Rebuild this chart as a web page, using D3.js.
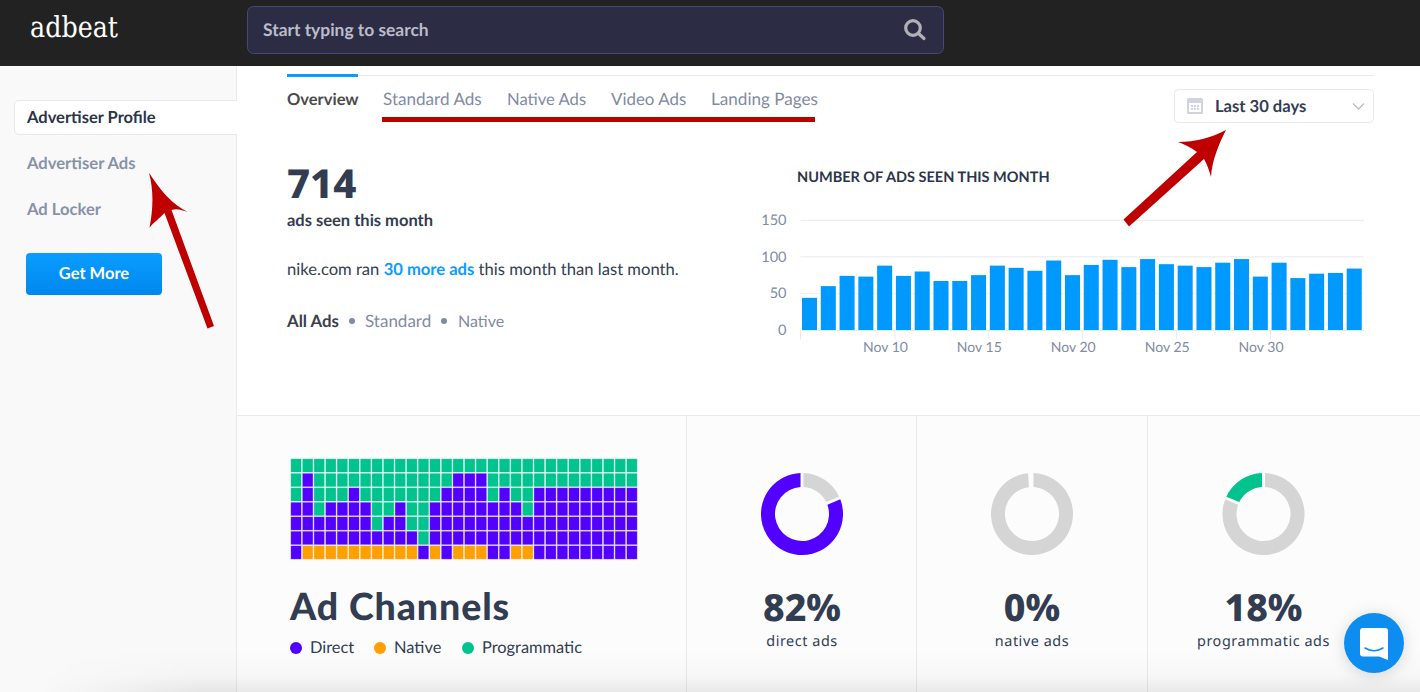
<![CDATA[<!DOCTYPE html>
<html><head><meta charset="utf-8">
<script src="https://cdn.jsdelivr.net/npm/d3@7"></script>
<style>
html,body{margin:0;padding:0;background:#fff;overflow:hidden}
svg{display:block}
text{font-family:Lato,sans-serif;text-rendering:geometricPrecision}
.noto{font-family:"Noto Sans",sans-serif}
</style></head><body><svg id="c" width="1420" height="692"></svg>
<script>
// ---------- data ----------
const adsPerDay = [44,60,74,73,88,74,80,67,67,75,88,85,81,95,75,89,96,86,97,90,88,86,92,97,73,92,71,77,78,84];
const firstDay = Date.UTC(2017,10,5);
const xTickDays = [Date.UTC(2017,10,10),Date.UTC(2017,10,15),Date.UTC(2017,10,20),Date.UTC(2017,10,25),Date.UTC(2017,10,30)];
const yTicks = [0,50,100,150];
const waffleRows = [
 "PPPPPPPPPPPPPPPPPPPPPPPPPPPPPP",
 "PDPPPPPPPPPPPPDDDPPPPPPPPPPPPP",
 "PDPPPDPPPPPPPDDDDPDPPDDDDDDDDD",
 "DDPDDDDPPDPPDDDDDDDDPDDDDDDDDD",
 "DDDDDDDPDDPPDDDDDDDDDDDDDDDDDD",
 "DDDDDDDDDDDPDDDDDDDDDDDDDDDDDD",
 "DNNNNNNNNNNDNDNNNDDNNDDDDDDDDD"];
const channelNames = ["Direct","Native","Programmatic"];
const channelKeys = ["D","N","P"];
const channelColors = ["#5200ff","#ff9f00","#00c38e"];
const directSplit = [18,82];
const nativeSplit = [100,0];
const programmaticSplit = [82,18];
const donutLabels = ["82%","0%","18%"];
const donutCaptions = ["direct ads","native ads","programmatic ads"];
const navTabs = ["Standard Ads","Native Ads","Video Ads","Landing Pages"];

// ---------- page frame ----------
const svg = d3.select("#c");
const NAVY="#323d52", GREY="#7f8ba3", LINE="#e8e9ef", RED="#bf0000";
const defs = svg.append("defs");
const g1 = defs.append("linearGradient").attr("id","btn").attr("x1",0).attr("x2",0).attr("y1",0).attr("y2",1);
g1.append("stop").attr("offset",0).attr("stop-color","#0a9dff");
g1.append("stop").attr("offset",1).attr("stop-color","#0087ef");
const g2 = defs.append("linearGradient").attr("id","fade").attr("x1",0).attr("x2",0).attr("y1",0).attr("y2",1);
g2.append("stop").attr("offset",0).attr("stop-color","#000").attr("stop-opacity",0);
g2.append("stop").attr("offset",0.6).attr("stop-color","#000").attr("stop-opacity",0.018);
g2.append("stop").attr("offset",1).attr("stop-color","#000").attr("stop-opacity",0.075);
const g3 = defs.append("linearGradient").attr("id","side").attr("x1",0).attr("x2",1).attr("y1",0).attr("y2",0);
g3.append("stop").attr("offset",0).attr("stop-color","#fff").attr("stop-opacity",0);
g3.append("stop").attr("offset",1).attr("stop-color","#fff").attr("stop-opacity",1);
const mk = defs.append("mask").attr("id","fadeMask").attr("maskUnits","userSpaceOnUse").attr("x",0).attr("y",640).attr("width",1420).attr("height",60);
mk.append("rect").attr("x",40).attr("y",640).attr("width",160).attr("height",60).attr("fill","url(#side)");
mk.append("rect").attr("x",200).attr("y",640).attr("width",1220).attr("height",60).attr("fill","#fff");
const sh = defs.append("filter").attr("id","sh").attr("x","-40%").attr("y","-40%").attr("width","180%").attr("height","180%");
sh.append("feDropShadow").attr("dx",0).attr("dy",2).attr("stdDeviation",8).attr("flood-color","#000").attr("flood-opacity",0.15);

function rect(x,y,w,h,fill,opt={}){const r=svg.append("rect").attr("x",x).attr("y",y).attr("width",w).attr("height",h).attr("fill",fill);
 for(const k in opt) r.attr(k,opt[k]); return r;}
function text(s,x,y,size,fill,weight=400,opt={}){const t=svg.append("text").attr("x",x).attr("y",y).attr("font-size",size).attr("fill",fill).attr("font-weight",weight).text(s);
 for(const k in opt) t.attr(k,opt[k]); return t;}

rect(0,0,1420,692,"#fff");
rect(0,66,237,626,"#f9f9fa");
rect(236,66,1,626,LINE);
rect(237,415,1183,277,"#fcfcfd");
rect(237,415,1183,1,LINE);
[686,916,1147].forEach(x=>rect(x,416,1,276,LINE));

// header
rect(0,0,1420,66,"#222222");
text("adbeat",30,37,29,"#fff",400,{style:"font-family:'DejaVu Serif',serif",textLength:88,lengthAdjust:"spacingAndGlyphs"});
rect(247.5,6.5,696,47,"#2c2c44",{rx:6,stroke:"#47477f"});
text("Start typing to search",263,36,17.4,"#bcbccb",700);
svg.append("circle").attr("cx",913).attr("cy",28).attr("r",7.3).attr("fill","none").attr("stroke","#b0b0b8").attr("stroke-width",3.2);
svg.append("line").attr("x1",918.5).attr("y1",33.5).attr("x2",924).attr("y2",38.5).attr("stroke","#b0b0b8").attr("stroke-width",3.2).attr("stroke-linecap","round");

// sidebar
svg.append("path").attr("d","M237 100.5H19a4.5 4.5 0 0 0-4.5 4.5v25a4.5 4.5 0 0 0 4.5 4.5H237").attr("fill","#fff").attr("stroke",LINE);
text("Advertiser Profile",27,123,16.5,"#2b3548",700);
text("Advertiser Ads",27,169,16.6,"#8792a8",700);
text("Ad Locker",27,215,16.6,"#8792a8",700);
rect(26,253,136,42,"url(#btn)",{rx:4});
text("Get More",94,279,16.5,"#fff",700,{"text-anchor":"middle"});

// tabs
rect(287,75,1087,1,LINE);
rect(287,74,71,3,"#0a9bff");
text("Overview",287,105,16.5,"#4a4a4a",700);
const tabX=[383,507,611,711];
const tabSize=[17.1,16.6,16.9,17.1];
navTabs.forEach((t,i)=>text(t,tabX[i],105,tabSize[i],GREY,400));
rect(382,117,433,5,RED);

// date picker
rect(1174.5,89.5,199,33,"#fff",{rx:4,stroke:LINE});
rect(1187,98,16,16,"#d0d3e0",{rx:1.5});
rect(1189,103,12,9,"#fff");
d3.range(3).forEach(i=>d3.range(2).forEach(j=>rect(1191+i*3,105+j*3,2,2,"#d0d3e0")));
text("Last 30 days",1215,112,16.6,NAVY,700);
svg.append("path").attr("d","M1353 103.5l5.5 5.5 5.5-5.5").attr("fill","none").attr("stroke","#b8bcc8").attr("stroke-width",1.3);

// summary text
text("714",287,198,40,NAVY,800,{class:"noto"});
text("ads seen this month",287,226,16.5,NAVY,700);
const line=svg.append("text").attr("x",287).attr("y",275).attr("font-size",16.6).attr("fill",NAVY);
line.append("tspan").text("nike.com ran ");
line.append("tspan").attr("fill","#0a9bff").attr("font-weight",700).text("30 more ads");
line.append("tspan").text(" this month than last month.");
text("All Ads",287,327,16.8,"#3a3f4c",700);
text("Standard",365,327,17,GREY);
text("Native",458,327,16,GREY);
[352,444].forEach(x=>svg.append("circle").attr("cx",x).attr("cy",321).attr("r",3).attr("fill",GREY));

// ---------- bar chart ----------
text("NUMBER OF ADS SEEN THIS MONTH",797,182,14.5,"#2b3548",700);
const DAY=864e5;
const days = adsPerDay.map((_,i)=>firstDay+i*DAY);
const x = d3.scaleUtc().domain([firstDay,firstDay+30*DAY]).range([800.5,1364]);
const y = d3.scaleLinear().domain([0,150]).range([330,220.3]);
const grid=svg.append("g");
grid.selectAll("line").data(yTicks.filter(v=>v>0)).join("line")
 .attr("x1",x.range()[0]).attr("x2",x.range()[1]).attr("y1",d=>y(d)).attr("y2",d=>y(d))
 .attr("stroke",d=>d===50?"#f2f3f6":LINE).attr("stroke-width",1);
const yAxis=svg.append("g").attr("transform","translate(786.5,0)")
 .call(d3.axisLeft(y).tickValues(yTicks).tickSize(0).tickPadding(0));
yAxis.select(".domain").remove();
yAxis.selectAll("text").attr("font-size",14.5).attr("fill",GREY).style("font-family","Lato").attr("dy","0.32em").attr("y",-0.5);
const xAxis=svg.append("g").attr("transform","translate(0,330.5)")
 .call(d3.axisBottom(x).tickValues(xTickDays).tickSize(9).tickPadding(3).tickFormat(d3.utcFormat("%b %-d")));
xAxis.select(".domain").attr("stroke",LINE).attr("d",`M${x.range()[0]},9V0H${x.range()[1]}`);
xAxis.selectAll("line").attr("stroke",LINE);
xAxis.selectAll("text").attr("font-size",14).attr("fill",GREY).attr("dx",-9.5).style("font-family","Lato");
const barW=(x(firstDay+DAY)-x(firstDay))*0.8;
svg.append("g").selectAll("rect").data(days).join("rect")
 .attr("x",d=>x(d)+(x(firstDay+DAY)-x(firstDay))*0.08).attr("width",barW)
 .attr("y",(d,i)=>y(adsPerDay[i])).attr("height",(d,i)=>y(0)-y(adsPerDay[i]))
 .attr("fill","#0099ff");

// ---------- waffle ----------
const wx=d3.scaleBand().domain(d3.range(30)).range([290.3,637.7]);
const wy=d3.scaleBand().domain(d3.range(7)).range([458.3,559.7]);
const wColor=d3.scaleOrdinal().domain(channelKeys).range(channelColors);
const cells=waffleRows.flatMap((r,ri)=>r.split("").map((k,ci)=>({k,ri,ci})));
svg.append("g").selectAll("rect").data(cells).join("rect")
 .attr("x",d=>wx(d.ci)+0.4).attr("y",d=>wy(d.ri)+0.4)
 .attr("width",wx.bandwidth()-0.8).attr("height",wy.bandwidth()-0.8)
 .attr("fill",d=>wColor(d.k)).attr("stroke","#fff").attr("stroke-opacity",0.5).attr("stroke-width",0.8);
text("Ad Channels",290,620,37.5,NAVY,900,{"letter-spacing":0.9});
const legX=[296,380,468];
channelNames.forEach((n,i)=>{
 svg.append("circle").attr("cx",legX[i]).attr("cy",648).attr("r",6).attr("fill",channelColors[i]);
 text(n,legX[i]+14,653,16.4,NAVY);
});

// ---------- donuts ----------
const donutData=[
 {v:directSplit,c:["#d5d5d5",channelColors[0]],cx:802},
 {v:nativeSplit,c:["#d5d5d5",channelColors[1]],cx:1032},
 {v:programmaticSplit,c:["#d5d5d5",channelColors[2]],cx:1263.5}];
const pie=d3.pie().sort(null).startAngle(0).endAngle(2*Math.PI-1e-4).padAngle(0.06);
const arc=d3.arc().innerRadius(27).outerRadius(41).padRadius(49);
donutData.forEach((D,i)=>{
 svg.append("g").attr("transform",`translate(${D.cx},514)`)
  .selectAll("path").data(pie(D.v)).join("path").attr("d",arc).attr("fill",(d,j)=>D.c[j]);
 text(donutLabels[i],D.cx,621,37.5,NAVY,800,{"text-anchor":"middle",class:"noto"});
 text(donutCaptions[i],D.cx,646,14.4,NAVY,400,{"text-anchor":"middle",class:"noto","letter-spacing":0.55});
});

// bottom fade
rect(0,650,1420,42,"url(#fade)",{mask:"url(#fadeMask)"});

// chat button
svg.append("circle").attr("cx",1374).attr("cy",643).attr("r",30).attr("fill","#0a8df0").attr("filter","url(#sh)");
svg.append("path").attr("d","M1363 628h22a3 3 0 0 1 3 3v29l-9-3.5h-16a3 3 0 0 1-3-3v-22.500a3 3 0 0 1 3-3z").attr("fill","#fff");
svg.append("path").attr("d","M1365 648q9 5.500 18 0").attr("fill","none").attr("stroke","#0a8df0").attr("stroke-width",1.5).attr("stroke-linecap","round");

// red arrows
const arrow1="M1129 226.500L1123.500 219.500L1197 152C1190 147 1184 144 1178 142C1195 142 1211 138 1226 130C1219 144 1212 160 1211 177C1209 170 1207 164 1204 159Z";
const arrow2="M214 326L207.500 328.500L164.500 213C160 218 153 223 149.500 227.700C153 210 154 191 149 172.700C160 190 172 204 187.700 212C182 210 177 208 171.500 210Z";
[arrow1,arrow2].forEach(d=>svg.append("path").attr("d",d).attr("fill",RED));
</script></body></html>]]>
